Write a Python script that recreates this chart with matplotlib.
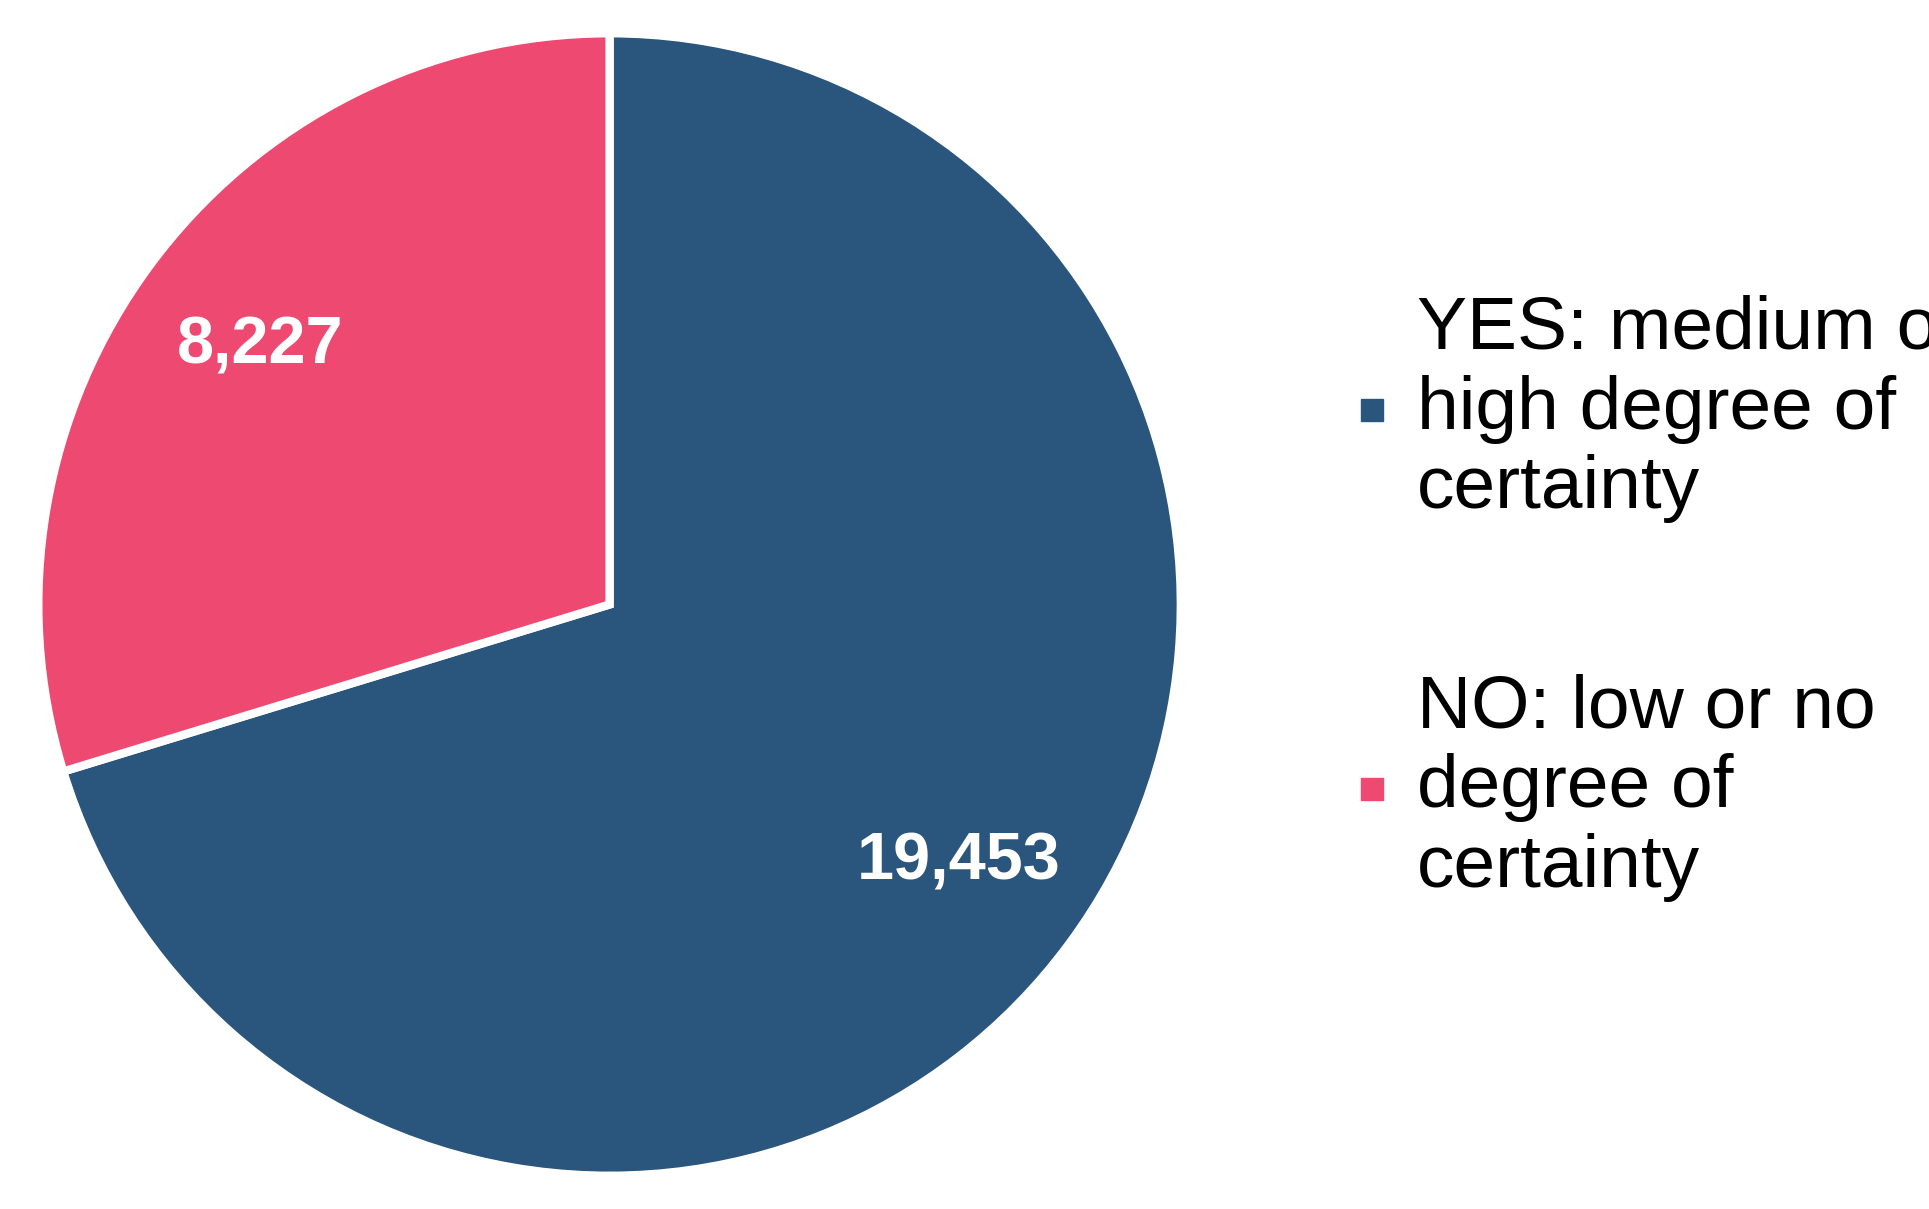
import matplotlib
matplotlib.use("Agg")
import matplotlib.pyplot as plt
from matplotlib.lines import Line2D

categories = ["YES: medium or\nhigh degree of\ncertainty", "NO: low or no\ndegree of\ncertainty"]
values = [19453, 8227]
colors = ["#2A557C", "#EE4971"]

plt.rcParams['font.family'] = ['Liberation Sans', 'DejaVu Sans']
fig = plt.figure(figsize=(19.29, 12.09), dpi=100)
h = 0.945
w = h * 1209 / 1929
ax = fig.add_axes([0.316 - w/2, 0.5 - h/2, w, h])
total = sum(values)
wedges, texts, autotexts = ax.pie(values, colors=colors, startangle=90, counterclock=False,
       wedgeprops=dict(edgecolor="white", linewidth=6),
       autopct=lambda p: f"{p*total/100:,.0f}", pctdistance=0.76,
       textprops=dict(color="white", fontsize=48, fontweight="bold"))
ax.set_xlim(-1, 1)
ax.set_ylim(-1, 1)
ax.set_aspect("equal")

handles = [Line2D([0], [0], marker='s', linestyle='', markersize=16, markerfacecolor=c, markeredgecolor=c) for c in colors]
fig.legend(handles, categories, loc="center left", bbox_to_anchor=(0.68, 0.505), frameon=False,
           fontsize=54, labelspacing=2.0, handletextpad=0.3, handlelength=0.6, borderpad=0)
fig.savefig("out.png", dpi=100, facecolor="white")
